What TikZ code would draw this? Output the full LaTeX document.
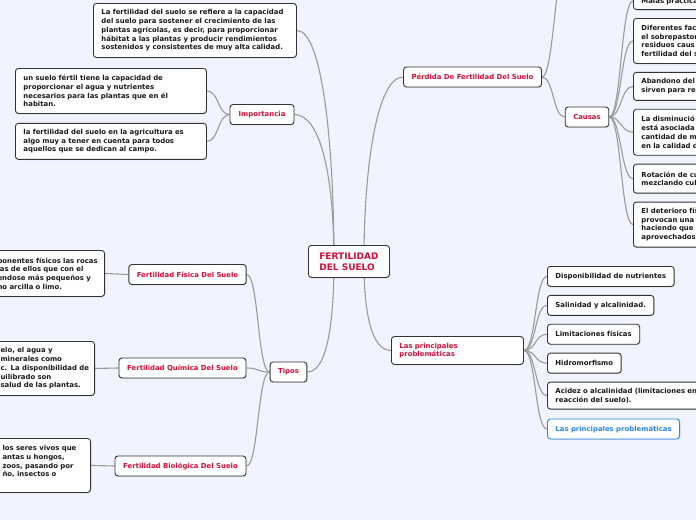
\documentclass[tikz,border=0pt]{standalone}
\usepackage{fontspec}
\setmainfont{DejaVu Sans}
\usepackage{xcolor}
\usetikzlibrary{positioning, shadows}

\definecolor{bgblue}{HTML}{F1F4FE}
\definecolor{topicred}{HTML}{D0103A}
\definecolor{linkblue}{HTML}{2A86E6}
\definecolor{framegray}{HTML}{333333}
\definecolor{linegray}{HTML}{9A9A9A}

\pgfdeclarelayer{back}
\pgfdeclarelayer{links}
\pgfsetlayers{back,links,main}

\hyphenpenalty=10000
\exhyphenpenalty=10000

\begin{document}
\begin{tikzpicture}[
    x=1pt, y=1pt,
    box/.style={rectangle, rounded corners=3pt, draw=framegray, fill=white, line width=0.9pt, inner xsep=8pt, inner ysep=3pt, align=left, text=black!90, font=\fontsize{6.9}{8.7}\selectfont\bfseries, drop shadow={shadow xshift=0.4pt, shadow yshift=-0.8pt, opacity=0.25}},
    topic/.style={box, text=topicred, align=center, minimum height=20pt},
    leaf/.style={box, minimum height=20pt},
    link/.style={draw=linegray, line width=1.1pt},
    rlink/.style={link, out=0, in=180, distance=12pt},
    llink/.style={link, out=180, in=0, distance=12pt}
]

\useasboundingbox (0,0) rectangle (696,-520);
\begin{pgfonlayer}{back}
\fill[bgblue] (0,0) rectangle (696,-520);
\end{pgfonlayer}

% tema central
\node[box, anchor=north west, minimum width=81pt, minimum height=32pt, inner xsep=9pt, text=topicred, font=\fontsize{9}{11}\selectfont\bfseries] (cen) at (308,-245) {FERTILIDAD\\DEL SUELO};
\coordinate (cenL) at ([xshift=-15pt]cen.center);
\coordinate (cenR) at ([xshift=15pt]cen.center);

% definicion
\node[box, anchor=north west, text width=187pt, minimum height=54pt] (def) at (93,-3) {La fertilidad del suelo se refiere a la capacidad\\del suelo para sostener el crecimiento de las\\plantas agrícolas, es decir, para proporcionar\\hábitat a las plantas y producir rendimientos\\sostenidos y consistentes de muy alta calidad.};

% Importancia
\node[topic, minimum width=64pt] (imp) at (262,-114.5) {Importancia};
\node[box, anchor=north west, text width=175pt, minimum height=45pt] (imp1) at (15,-68) {un suelo fértil tiene la capacidad de\\proporcionar el agua y nutrientes\\necesarios para las plantas que en él\\habitan.};
\node[box, below=9pt of imp1.south west, anchor=north west, text width=175pt, minimum height=36pt] (imp2) {la fertilidad del suelo en la agricultura es\\algo muy a tener en cuenta para todos\\aquellos que se dedican al campo.};

% Tipos
\node[topic] (tip) at (288.5,-372) {Tipos};
\node[topic, minimum width=117pt] (fis) at (187.5,-274.5) {Fertilidad Física Del Suelo};
\node[topic, minimum width=127pt] (qui) at (182.5,-368) {Fertilidad Química Del Suelo};
\node[topic, minimum width=131pt] (bio) at (180.5,-466) {Fertilidad Biológica Del Suelo};

\node[box, anchor=north east, inner xsep=4pt, text width=103pt, minimum height=46pt] (fisd) at (105,-250) {ponentes físicos las rocas\\las de ellos que con el\\endose más pequeños y\\no arcilla o limo.};
\node[box, anchor=north east, inner xsep=4pt, text width=90pt, minimum height=54pt] (quid) at (95,-341) {elo, el agua y\\minerales como\\c. La disponibilidad de\\uilibrado son\\salud de las plantas.};
\node[box, anchor=north east, text width=80pt, minimum height=54pt] (biod) at (91,-438) {los seres vivos que\\antas u hongos,\\zoos, pasando por\\ño, insectos o\\\mbox{}};

% Perdida de fertilidad
\node[topic] (per) at (472.5,-77) {Pérdida De Fertilidad Del Suelo};
\coordinate (offtop) at (567,40);
\node[topic] (cau) at (587,-117) {Causas};

\node[box, anchor=south west, text width=120pt, minimum height=17pt] (c0) at (633,-10) {Malas prácticas};
\node[box, below=8pt of c0.south west, anchor=north west, text width=120pt, minimum height=45pt] (c1) {Diferentes fac\\el sobrepastor\\residuos caus\\fertilidad del s};
\node[box, below=8pt of c1.south west, anchor=north west, text width=120pt, minimum height=28pt] (c2) {Abandono del\\sirven para re};
\node[box, below=8pt of c2.south west, anchor=north west, text width=120pt, minimum height=46pt] (c3) {La disminució\\está asociada\\cantidad de m\\en la calidad d};
\node[box, below=8pt of c3.south west, anchor=north west, text width=120pt, minimum height=29pt] (c4) {Rotación de cu\\mezclando cul};
\node[box, below=8pt of c4.south west, anchor=north west, text width=120pt, minimum height=45pt] (c5) {El deterioro fís\\provocan una\\haciendo que\\aprovechados};

% Las principales problematicas
\node[box, anchor=north west, text=topicred, text width=116pt, minimum height=28pt] (prob) at (391,-336) {Las principales\\problemáticas};

\node[leaf, anchor=north west] (p1) at (547,-266) {Disponibilidad de nutrientes};
\node[leaf, below=8pt of p1.south west, anchor=north west] (p2) {Salinidad y alcalinidad.};
\node[leaf, below=8pt of p2.south west, anchor=north west] (p3) {Limitaciones físicas};
\node[leaf, below=8pt of p3.south west, anchor=north west] (p4) {Hidromorfismo};
\node[box, below=8pt of p4.south west, anchor=north west, text width=170pt, minimum height=27pt] (p5) {Acidez o alcalinidad (limitaciones en\\reacción del suelo).};
\node[leaf, below=9pt of p5.south west, anchor=north west, draw=linkblue, text=linkblue] (p6) {Las principales problemáticas};

% conexiones
\begin{pgfonlayer}{links}
\draw[link] (cenL) to[out=90, in=0, out distance=120pt, in distance=25pt] (def.east);
\draw[link] (cenL) to[out=90, in=0, out distance=90pt, in distance=25pt] (imp.east);
\draw[link] (cenL) to[out=-90, in=0, out distance=60pt, in distance=20pt] (tip.east);
\draw[link] (cenR) to[out=90, in=180, out distance=100pt, in distance=25pt] (per.west);
\draw[link] (cenR) to[out=-90, in=180, out distance=50pt, in distance=20pt] (prob.west);

\foreach \c in {imp1,imp2} \draw[llink] (imp.west) to (\c.east);
\foreach \c in {fis,qui,bio} \draw[llink] (tip.west) to (\c.east);
\draw[llink] (fis.west) to (fisd.east);
\draw[llink] (qui.west) to (quid.east);
\draw[llink] (bio.west) to (biod.east);

\draw[rlink] (per.east) to (cau.west);
\draw[rlink] (per.east) to (offtop);
\foreach \c in {c0,c1,c2,c3,c4,c5} \draw[rlink] (cau.east) to (\c.west);
\foreach \c in {p1,p2,p3,p4,p5,p6} \draw[rlink] (prob.east) to (\c.west);
\end{pgfonlayer}

\end{tikzpicture}
\end{document}
